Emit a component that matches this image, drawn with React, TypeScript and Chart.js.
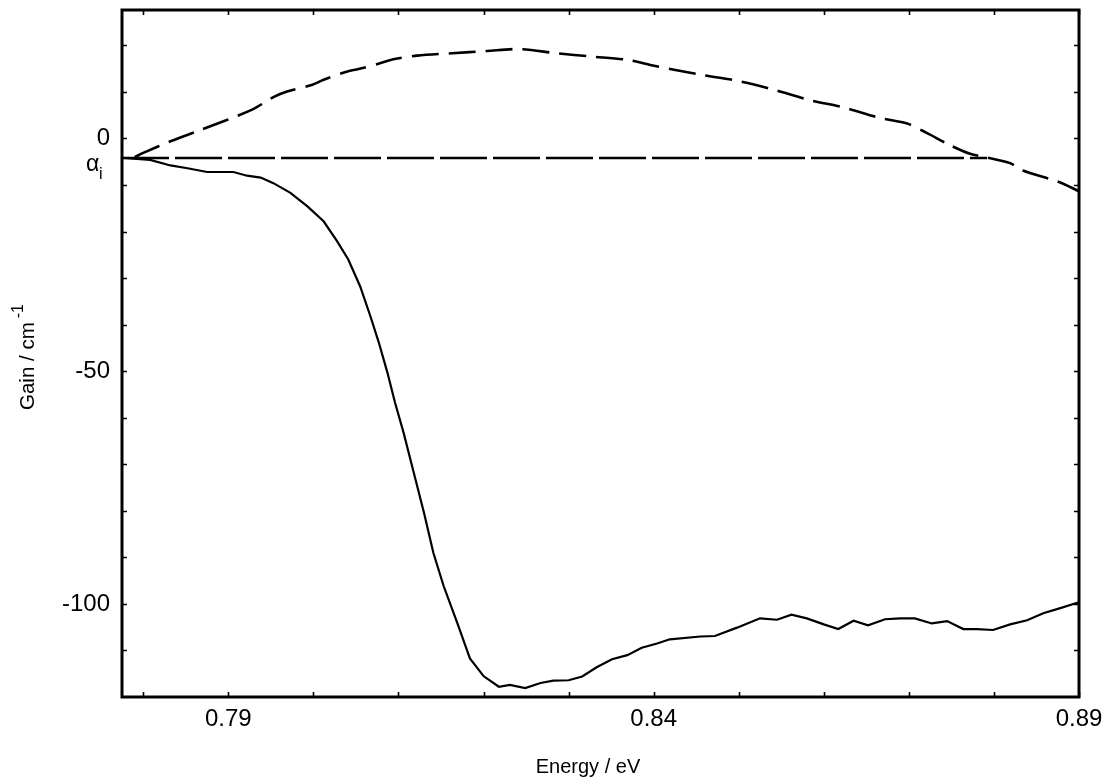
import React, { useEffect, useRef } from "react";
import { Chart, registerables } from "chart.js";

Chart.register(...registerables);

// ---- data ----
const solidX = [
  0.7777, 0.7808, 0.7832, 0.7852, 0.7875, 0.7906, 0.7922, 0.7938, 0.7953, 0.7973,
  0.7993, 0.8012, 0.8028, 0.8041, 0.8055, 0.8067, 0.8077, 0.8087, 0.8096, 0.8106,
  0.8118, 0.8130, 0.8141, 0.8153, 0.8169, 0.8184, 0.8200, 0.8218, 0.8231, 0.8249,
  0.8267, 0.8282, 0.8300, 0.8316, 0.8333, 0.8351, 0.8369, 0.8386, 0.8404, 0.8419,
  0.8455, 0.8472, 0.8498, 0.8525, 0.8545, 0.8562, 0.8580, 0.8600, 0.8617, 0.8635,
  0.8652, 0.8672, 0.8690, 0.8707, 0.8727, 0.8745, 0.8764, 0.8780, 0.8799, 0.8819,
  0.8839, 0.8858, 0.8878, 0.8899,
];
const solidY = [
  -4.2, -4.6, -5.8, -6.4, -7.2, -7.2, -8.0, -8.4, -9.6, -11.7,
  -14.6, -17.8, -22.1, -26.0, -31.8, -38.2, -43.9, -50.3, -56.8, -63.2,
  -71.8, -80.4, -89.0, -96.1, -104.0, -111.7, -115.5, -117.8, -117.4, -118.1,
  -117.0, -116.5, -116.4, -115.6, -113.6, -111.9, -111.0, -109.4, -108.5, -107.6,
  -107.0, -106.9, -105.1, -103.1, -103.4, -102.3, -103.1, -104.4, -105.4, -103.6,
  -104.6, -103.3, -103.1, -103.1, -104.2, -103.7, -105.4, -105.4, -105.6, -104.4,
  -103.5, -102.0, -100.9, -99.7,
];

const gainX = [
  0.7790, 0.7800, 0.7832, 0.7867, 0.7928, 0.7953, 0.7969, 0.7998, 0.8012, 0.8040,
  0.8053, 0.8081, 0.8094, 0.8122, 0.8163, 0.8204, 0.8243, 0.8286, 0.8327, 0.8369,
  0.8396, 0.8455, 0.8498, 0.8541, 0.8584, 0.8623, 0.8666, 0.8698, 0.8721, 0.8748,
  0.8772, 0.8792, 0.8819, 0.8834, 0.8874, 0.8901,
];
const gainY = [
  -4.0, -3.1, -0.6, 1.8, 6.2, 8.9, 10.1, 11.5, 12.6, 14.4,
  14.9, 16.3, 17.0, 17.8, 18.3, 18.8, 19.2, 18.3, 17.6, 16.9,
  15.8, 13.7, 12.4, 10.5, 8.2, 6.7, 4.4, 3.2, 1.2, -1.4,
  -3.3, -4.1, -5.3, -6.9, -9.2, -11.4,
];

const alphaI = -4.2;
const alphaLineX = [0.7775, 0.8792];

const xMin = 0.7775;
const xMax = 0.89;
const yMin = -120;
const yMax = 27.6;

const xLabelTicks = [0.79, 0.84, 0.89];
const yLabelTicks = [0, -50, -100];
const xMinorTicks = [0.78, 0.79, 0.8, 0.81, 0.82, 0.83, 0.84, 0.85, 0.86, 0.87, 0.88, 0.89];
const yMinorTicks = [20, 10, 0, -10, -20, -30, -40, -50, -60, -70, -80, -90, -100, -110];

const xTitle = "Energy / eV";
const yTitle = "Gain / cm";
const yTitleSup = "-1";
const alphaLabel = "α";
const alphaSub = "i";

const FONT = "'Liberation Sans', Arial, Helvetica, sans-serif";

const framePlugin = {
  id: "frame",
  afterDraw(chart: any) {
    const { ctx, chartArea } = chart;
    const xs = chart.scales.x;
    const ys = chart.scales.y;
    const { left, right, top, bottom } = chartArea;
    ctx.save();
    ctx.strokeStyle = "#000";
    // ticks
    ctx.lineWidth = 1.6;
    const tl = 5;
    ctx.beginPath();
    for (const v of xMinorTicks) {
      const px = Math.round(xs.getPixelForValue(v)) + 0.5;
      ctx.moveTo(px, bottom);
      ctx.lineTo(px, bottom - tl);
      ctx.moveTo(px, top);
      ctx.lineTo(px, top + tl);
    }
    for (const v of yMinorTicks) {
      const py = Math.round(ys.getPixelForValue(v)) + 0.5;
      ctx.moveTo(left, py);
      ctx.lineTo(left + tl, py);
      ctx.moveTo(right, py);
      ctx.lineTo(right - tl, py);
    }
    ctx.stroke();
    // frame
    ctx.lineWidth = 3;
    ctx.strokeRect(left, top, right - left, bottom - top);

    // x title
    ctx.fillStyle = "#000";
    ctx.font = `20px ${FONT}`;
    ctx.textAlign = "center";
    ctx.textBaseline = "alphabetic";
    ctx.fillText(xTitle, 588, 773);

    // y title with superscript
    ctx.save();
    ctx.translate(34, 410);
    ctx.rotate(-Math.PI / 2);
    ctx.textAlign = "left";
    ctx.font = `20.5px ${FONT}`;
    ctx.fillText(yTitle, 0, 0);
    const w = ctx.measureText(yTitle).width;
    ctx.font = `16px ${FONT}`;
    ctx.fillText(yTitleSup, w + 4, -11);
    ctx.restore();

    // alpha_i label
    const ay = ys.getPixelForValue(alphaI);
    ctx.textAlign = "left";
    ctx.font = `23px ${FONT}`;
    ctx.fillText(alphaLabel, 86, ay + 13);
    ctx.font = `16px ${FONT}`;
    ctx.fillText(alphaSub, 99, ay + 21);
    ctx.restore();
  },
};

const zeroPad = (scale: any) => {
  scale.paddingTop = 0;
  scale.paddingBottom = 0;
  scale.paddingLeft = 0;
  scale.paddingRight = 0;
};

export default function App() {
  const ref = useRef<HTMLCanvasElement | null>(null);

  useEffect(() => {
    if (!ref.current) return;
    const chart = new Chart(ref.current, {
      type: "line",
      data: {
        datasets: [
          {
            label: "alpha_i",
            data: alphaLineX.map((x) => ({ x, y: alphaI })),
            borderColor: "#000",
            borderWidth: 2.6,
            borderDash: [47, 6],
            pointRadius: 0,
            fill: false,
          },
          {
            label: "gain",
            data: gainX.map((x, i) => ({ x, y: gainY[i] })),
            borderColor: "#000",
            borderWidth: 2.6,
            borderDash: [27, 10],
            pointRadius: 0,
            fill: false,
            tension: 0.3,
          },
          {
            label: "absorption",
            data: solidX.map((x, i) => ({ x, y: solidY[i] })),
            borderColor: "#000",
            borderWidth: 2.2,
            pointRadius: 0,
            fill: false,
            tension: 0,
          },
        ],
      },
      options: {
        responsive: false,
        animation: false,
        devicePixelRatio: 1,
        layout: { padding: { left: 0, right: 26, top: 10, bottom: 0 } },
        plugins: {
          legend: { display: false },
          tooltip: { enabled: false },
        },
        scales: {
          x: {
            type: "linear",
            min: xMin,
            max: xMax,
            grid: { display: false, drawTicks: false },
            border: { display: false },
            afterBuildTicks: (scale: any) => {
              scale.ticks = xLabelTicks.map((v) => ({ value: v }));
            },
            afterFit: (scale: any) => {
              scale.height = 84;
              zeroPad(scale);
            },
            ticks: {
              padding: 8,
              color: "#000",
              font: { family: FONT, size: 24 },
              maxRotation: 0,
              autoSkip: false,
              callback: (v: any) => Number(v).toFixed(2),
            },
          },
          y: {
            type: "linear",
            min: yMin,
            max: yMax,
            grid: { display: false, drawTicks: false },
            border: { display: false },
            afterBuildTicks: (scale: any) => {
              scale.ticks = yLabelTicks.map((v) => ({ value: v }));
            },
            afterFit: (scale: any) => {
              scale.width = 122;
              zeroPad(scale);
            },
            ticks: {
              padding: 12,
              color: "#000",
              font: { family: FONT, size: 24 },
              autoSkip: false,
              callback: (v: any) => String(v),
            },
          },
        },
      },
      plugins: [framePlugin],
    });
    return () => chart.destroy();
  }, []);

  return (
    <div style={{ position: "fixed", left: 0, top: 0, width: 1105, height: 781, background: "#fff" }}>
      <canvas ref={ref} width={1105} height={781} />
    </div>
  );
}
